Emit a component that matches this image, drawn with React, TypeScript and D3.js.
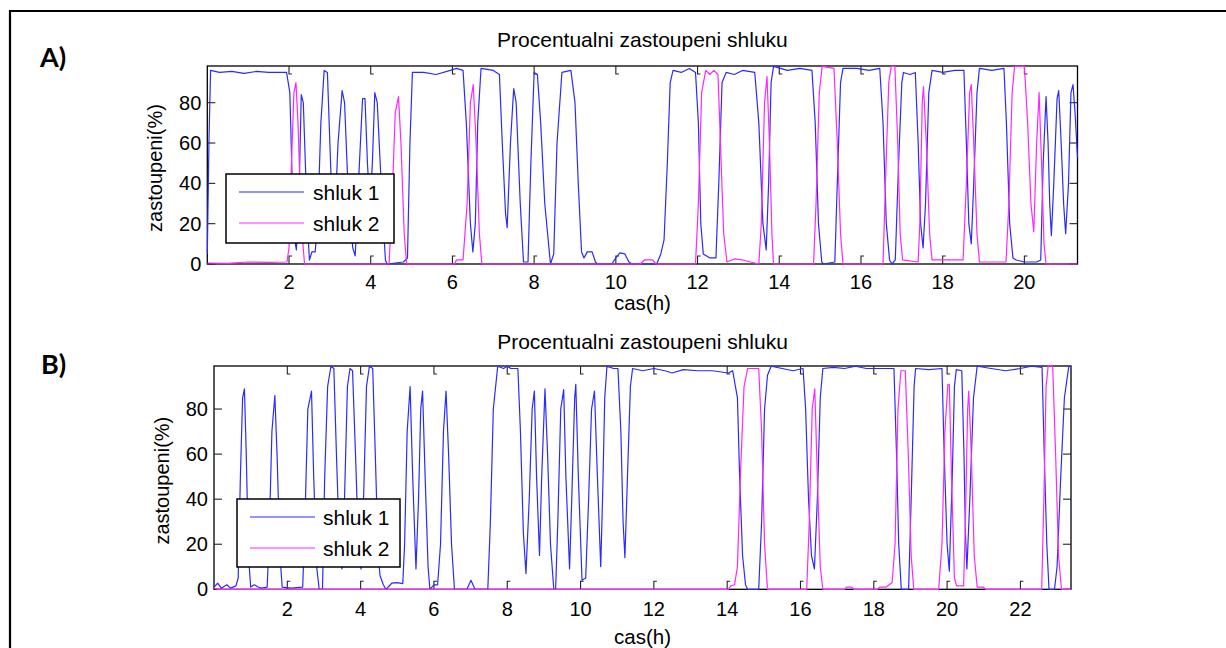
import React from "react";
import * as d3 from "d3";

type Pt = [number, number];

const titleText = "Procentualni zastoupeni shluku";
const xLabelText = "cas(h)";
const yLabelText = "zastoupeni(%)";
const seriesNames = ["shluk 1", "shluk 2"];
const panelLabels = ["A)", "B)"];
const xTicksA = [2, 4, 6, 8, 10, 12, 14, 16, 18, 20];
const xTicksB = [2, 4, 6, 8, 10, 12, 14, 16, 18, 20, 22];
const yTicks = [0, 20, 40, 60, 80];

const aShluk1: Pt[] = [
  [0, 5], [0.04, 60], [0.08, 96], [0.3, 95], [0.6, 95.5], [0.9, 94.5], [1.2, 95.5], [1.5, 95], [1.94, 95],
  [2.02, 85], [2.08, 40], [2.14, 12], [2.18, 7], [2.24, 30], [2.3, 84], [2.35, 80], [2.45, 20], [2.5, 2],
  [2.56, 6], [2.64, 6], [2.7, 20], [2.78, 70], [2.86, 96], [2.94, 95], [3.0, 60], [3.06, 25], [3.12, 22],
  [3.2, 60], [3.3, 86], [3.36, 80], [3.44, 40], [3.56, 8], [3.62, 4], [3.7, 40], [3.8, 82], [3.86, 82],
  [3.92, 50], [3.98, 28], [4.04, 50], [4.1, 85], [4.16, 80], [4.28, 30], [4.36, 2], [4.4, 0], [4.6, 0.5],
  [4.8, 1], [4.9, 3], [4.96, 60], [5.02, 95], [5.3, 95], [5.6, 94], [5.95, 96], [6.1, 97], [6.26, 96],
  [6.34, 70], [6.44, 20], [6.5, 6], [6.56, 20], [6.62, 70], [6.7, 97], [7.0, 96], [7.15, 94], [7.22, 60],
  [7.3, 25], [7.34, 18], [7.42, 60], [7.5, 87], [7.56, 80], [7.66, 30], [7.74, 1], [7.85, 1], [7.92, 50],
  [8.0, 95], [8.08, 94], [8.16, 70], [8.26, 30], [8.4, 0], [8.48, 5], [8.56, 60], [8.68, 95], [8.9, 96],
  [9.0, 80], [9.08, 40], [9.16, 6], [9.22, 3], [9.3, 6], [9.42, 6], [9.5, 1], [9.55, 0], [9.9, 0],
  [10.0, 3], [10.1, 5.5], [10.22, 5], [10.32, 1], [10.4, 0], [11.0, 0], [11.1, 5], [11.18, 12],
  [11.26, 50], [11.33, 90], [11.4, 96], [11.6, 95], [11.8, 97], [11.95, 95], [12.02, 70], [12.08, 20],
  [12.14, 5], [12.3, 3], [12.45, 3], [12.52, 40], [12.6, 90], [12.7, 95], [12.9, 94], [13.1, 96],
  [13.4, 95], [13.5, 70], [13.6, 20], [13.68, 7], [13.74, 40], [13.8, 90], [13.86, 98], [14.2, 96],
  [14.5, 97], [14.8, 96], [14.88, 70], [14.96, 20], [15.04, 1], [15.08, 0], [15.36, 1], [15.42, 40],
  [15.5, 90], [15.56, 97], [15.9, 97], [16.2, 96], [16.46, 97], [16.54, 70], [16.62, 20], [16.7, 2],
  [16.76, 0], [16.84, 2], [16.92, 50], [17.0, 90], [17.04, 95], [17.2, 94], [17.33, 95], [17.4, 60],
  [17.46, 20], [17.52, 8], [17.58, 30], [17.66, 85], [17.74, 96], [18.0, 95], [18.3, 96], [18.52, 96],
  [18.58, 60], [18.64, 20], [18.7, 10], [18.76, 40], [18.84, 85], [18.9, 97], [19.2, 96], [19.5, 97],
  [19.56, 70], [19.64, 20], [19.72, 3], [19.8, 2], [20.0, 1], [20.3, 1], [20.4, 2], [20.46, 50],
  [20.53, 83], [20.58, 60], [20.62, 30], [20.66, 14], [20.72, 40], [20.8, 82], [20.84, 86], [20.9, 60],
  [20.96, 30], [21.01, 15], [21.08, 40], [21.14, 85], [21.19, 89], [21.24, 75], [21.3, 53],
];

const aShluk2: Pt[] = [
  [0, 0.5], [0.5, 0.3], [1.0, 1], [1.5, 0.8], [1.95, 1], [2.0, 8], [2.06, 50], [2.12, 85], [2.17, 90],
  [2.22, 70], [2.3, 20], [2.38, 0], [4.45, 0], [4.52, 30], [4.6, 75], [4.68, 83], [4.74, 60], [4.82, 15],
  [4.88, 0], [6.05, 0], [6.1, 2], [6.26, 2], [6.36, 30], [6.44, 80], [6.51, 89], [6.58, 60], [6.66, 15],
  [6.72, 0], [10.6, 0], [10.7, 2], [10.9, 2], [10.98, 0], [11.95, 0], [12.02, 30], [12.1, 85], [12.2, 96],
  [12.3, 94], [12.4, 96], [12.5, 94], [12.56, 60], [12.64, 15], [12.72, 1], [12.9, 2.5], [13.1, 2],
  [13.3, 1], [13.5, 0], [13.56, 20], [13.64, 80], [13.7, 93], [13.76, 60], [13.82, 15], [13.86, 0],
  [14.84, 0], [14.9, 30], [14.98, 85], [15.05, 98], [15.34, 97], [15.42, 60], [15.5, 15], [15.56, 0],
  [16.54, 0], [16.6, 40], [16.68, 90], [16.74, 98], [16.83, 98], [16.9, 60], [16.96, 15], [17.02, 2],
  [17.4, 1], [17.44, 20], [17.5, 80], [17.53, 88], [17.6, 60], [17.68, 15], [17.74, 2], [18.5, 2],
  [18.58, 40], [18.66, 85], [18.7, 89], [18.76, 60], [18.84, 15], [18.9, 1], [19.55, 1], [19.62, 30],
  [19.7, 85], [19.76, 98], [20.0, 98], [20.08, 70], [20.16, 30], [20.23, 16], [20.3, 60], [20.36, 85],
  [20.42, 50], [20.48, 10], [20.53, 0], [21.3, 0],
];

const bShluk1: Pt[] = [
  [0, 1], [0.1, 2.7], [0.2, 0.5], [0.35, 2], [0.45, 0.5], [0.6, 1.5], [0.66, 5], [0.72, 50], [0.78, 85],
  [0.83, 89], [0.88, 60], [0.94, 15], [1.0, 1], [1.1, 2], [1.2, 1], [1.3, 0.5], [1.45, 1], [1.5, 20],
  [1.58, 70], [1.66, 86], [1.72, 60], [1.8, 15], [1.86, 1], [2.1, 0.5], [2.42, 1], [2.48, 30], [2.56, 80],
  [2.66, 88], [2.72, 50], [2.8, 10], [2.87, 0], [2.96, 0], [3.02, 50], [3.1, 90], [3.19, 99], [3.27, 98],
  [3.34, 60], [3.42, 20], [3.49, 9], [3.56, 40], [3.64, 90], [3.71, 98], [3.78, 97], [3.86, 60],
  [3.94, 20], [4.01, 9], [4.08, 40], [4.16, 90], [4.24, 99], [4.33, 98], [4.4, 60], [4.48, 15], [4.53, 6],
  [4.62, 2], [4.69, 0], [4.85, 2.7], [5.0, 3], [5.15, 2.5], [5.2, 20], [5.27, 70], [5.35, 90], [5.42, 50],
  [5.51, 9], [5.58, 40], [5.64, 80], [5.69, 88], [5.76, 50], [5.84, 10], [5.89, 0], [6.0, 2], [6.1, 2],
  [6.18, 20], [6.26, 70], [6.33, 88], [6.4, 60], [6.48, 20], [6.56, 0], [6.9, 0], [7.01, 4], [7.12, 0],
  [7.47, 0], [7.54, 30], [7.62, 80], [7.74, 99], [7.9, 98], [8.0, 99], [8.1, 98], [8.29, 98], [8.36, 70],
  [8.44, 25], [8.51, 7], [8.6, 40], [8.68, 80], [8.74, 88], [8.8, 50], [8.88, 15], [8.94, 50], [9.03, 89],
  [9.1, 60], [9.18, 20], [9.27, 0], [9.32, 0], [9.38, 30], [9.46, 80], [9.54, 88.6], [9.6, 50], [9.7, 9],
  [9.76, 40], [9.84, 85], [9.87, 91], [9.94, 50], [10.04, 4], [10.14, 5], [10.22, 40], [10.3, 80],
  [10.38, 88], [10.46, 50], [10.55, 10], [10.6, 40], [10.66, 85], [10.72, 99], [10.9, 98], [11.02, 98],
  [11.1, 70], [11.16, 30], [11.21, 14], [11.28, 50], [11.36, 90], [11.42, 98], [11.7, 97], [12.0, 98],
  [12.3, 97], [12.5, 96], [12.8, 97.5], [13.2, 97], [13.6, 97], [14.03, 96], [14.15, 97], [14.28, 85],
  [14.34, 50], [14.42, 15], [14.5, 2], [14.56, 0], [14.86, 0], [14.94, 30], [15.02, 80], [15.1, 95],
  [15.2, 99], [15.5, 98], [15.8, 97], [16.07, 98], [16.14, 80], [16.22, 40], [16.3, 15], [16.38, 9],
  [16.46, 40], [16.54, 85], [16.61, 98], [16.9, 98.5], [17.2, 98], [17.5, 99], [17.8, 98], [18.2, 98],
  [18.55, 98], [18.62, 60], [18.68, 20], [18.75, 0], [18.95, 0], [19.02, 40], [19.1, 90], [19.14, 98],
  [19.5, 97.5], [19.86, 98], [19.92, 60], [20.0, 20], [20.06, 8], [20.14, 50], [20.2, 90], [20.25, 97.5],
  [20.4, 97], [20.46, 60], [20.5, 25], [20.54, 9], [20.62, 40], [20.72, 85], [20.82, 99], [21.2, 98],
  [21.6, 97], [22.0, 98], [22.3, 99], [22.59, 98.5], [22.65, 60], [22.72, 20], [22.78, 0], [22.93, 0],
  [23.0, 10], [23.1, 50], [23.2, 85], [23.32, 99], [23.38, 99],
];

const bShluk2: Pt[] = [
  [0, 0.5], [0.1, 0], [14.03, 0], [14.1, 1.5], [14.2, 2], [14.28, 10], [14.36, 50], [14.46, 90],
  [14.56, 98], [14.86, 98], [14.94, 70], [15.02, 20], [15.1, 0], [16.17, 0], [16.24, 30], [16.32, 80],
  [16.39, 89], [16.46, 50], [16.54, 10], [16.61, 0], [17.2, 0], [17.26, 1], [17.4, 1], [17.46, 0],
  [18.1, 0], [18.16, 1], [18.34, 1], [18.5, 3], [18.58, 20], [18.66, 80], [18.74, 97], [18.86, 97],
  [18.94, 60], [19.02, 15], [19.09, 0], [19.77, 0], [19.86, 20], [19.94, 70], [20.02, 91], [20.06, 91],
  [20.12, 50], [20.2, 5], [20.26, 1.5], [20.45, 1.5], [20.5, 30], [20.56, 80], [20.59, 88], [20.66, 60],
  [20.74, 15], [20.82, 1], [20.98, 1], [21.05, 0], [22.58, 0], [22.64, 40], [22.7, 90], [22.76, 99.5],
  [22.88, 99], [22.96, 60], [23.04, 15], [23.12, 0], [23.38, 0],
];

const BLUE = "#2a2aff";
const MAGENTA = "#ff26ff";
const FONT = "'Liberation Sans', Arial, Helvetica, sans-serif";

type PanelProps = {
  id: string;
  left: number; right: number; top: number; bottom: number;
  xMax: number; yMax: number;
  s1: Pt[]; s2: Pt[];
  xTicks: number[];
  legend: { x0: number; x1: number; y0: number; y1: number; lx0: number; lx1: number; r1: number; r2: number; tx: number };
  titleY: number; xTickY: number; xLabelY: number; yLabelX: number;
};

function Panel(p: PanelProps) {
  const x = d3.scaleLinear().domain([0, p.xMax]).range([p.left, p.right]);
  const y = d3.scaleLinear().domain([0, p.yMax]).range([p.bottom, p.top]);
  const line = d3.line<Pt>().x((d) => x(d[0])).y((d) => y(d[1]));
  const tl = 8;
  const cx = (p.left + p.right) / 2;
  const cy = (p.top + p.bottom) / 2;
  const L = p.legend;
  return (
    <g>
      <defs>
        <clipPath id={p.id}>
          <rect x={p.left - 1} y={p.top - 1} width={p.right - p.left + 2} height={p.bottom - p.top + 2} />
        </clipPath>
      </defs>
      <rect x={p.left} y={p.top} width={p.right - p.left} height={p.bottom - p.top} fill="white" stroke="#000" strokeWidth={1.3} />
      {p.xTicks.map((t) => (
        <g key={"xt" + t} stroke="#222" strokeWidth={1.1} fill="none">
          <path d={`M${x(t)},${p.top} V${p.top + tl} h3`} />
          <path d={`M${x(t)},${p.bottom} V${p.bottom - tl} h3`} />
        </g>
      ))}
      {yTicks.map((v) => (
        <g key={"yt" + v} stroke="#222" strokeWidth={1.1}>
          <line x1={p.left} x2={p.left + tl} y1={y(v)} y2={y(v)} />
          <line x1={p.right} x2={p.right - tl} y1={y(v)} y2={y(v)} />
        </g>
      ))}
      <g clipPath={`url(#${p.id})`} fill="none" strokeWidth={1.2} strokeLinejoin="round">
        <path d={line(p.s1) || ""} stroke={BLUE} />
        <path d={line(p.s2) || ""} stroke={MAGENTA} />
      </g>
      {p.xTicks.map((t) => (
        <text key={"xl" + t} x={x(t)} y={p.xTickY} textAnchor="middle" fontFamily={FONT} fontSize={20}>{t}</text>
      ))}
      {yTicks.map((v) => (
        <text key={"yl" + v} x={p.left - 6} y={y(v) + 7} textAnchor="end" fontFamily={FONT} fontSize={20}>{v}</text>
      ))}
      <text x={cx} y={p.titleY} textAnchor="middle" fontFamily={FONT} fontSize={21}>{titleText}</text>
      <text x={cx} y={p.xLabelY} textAnchor="middle" fontFamily={FONT} fontSize={20.5}>{xLabelText}</text>
      <text transform={`translate(${p.yLabelX},${cy + 3}) rotate(-90)`} textAnchor="middle" fontFamily={FONT} fontSize={20}>{yLabelText}</text>
      <rect x={L.x0} y={L.y0} width={L.x1 - L.x0} height={L.y1 - L.y0} fill="white" stroke="#000" strokeWidth={1.5} />
      <line x1={L.lx0} x2={L.lx1} y1={L.r1} y2={L.r1} stroke={BLUE} strokeWidth={1.2} />
      <line x1={L.lx0} x2={L.lx1} y1={L.r2} y2={L.r2} stroke={MAGENTA} strokeWidth={1.2} />
      <text x={L.tx} y={L.r1 + 7.5} fontFamily={FONT} fontSize={21}>{seriesNames[0]}</text>
      <text x={L.tx} y={L.r2 + 7.5} fontFamily={FONT} fontSize={21}>{seriesNames[1]}</text>
    </g>
  );
}

export default function App() {
  return (
    <svg width={1226} height={648} style={{ position: "absolute", left: 0, top: 0, background: "white" }}>
      <rect x={0} y={0} width={1226} height={648} fill="white" />
      <path d="M10,660 V11 H1240" fill="none" stroke="#000" strokeWidth={2.2} />
      <text x={40} y={67} fontFamily="Lato, 'Open Sans', sans-serif" fontWeight={700} fontSize={27}>{panelLabels[0]}</text>
      <text x={41} y={374} fontFamily="Lato, 'Open Sans', sans-serif" fontWeight={700} fontSize={27}>{panelLabels[1]}</text>
      <Panel
        id="clipA"
        left={207.3} right={1077.5} top={66} bottom={264}
        xMax={21.3} yMax={98.2}
        s1={aShluk1} s2={aShluk2}
        xTicks={xTicksA}
        legend={{ x0: 226, x1: 394, y0: 174, y1: 243, lx0: 239, lx1: 304, r1: 192, r2: 223, tx: 313 }}
        titleY={47} xTickY={289} xLabelY={310} yLabelX={162}
      />
      <Panel
        id="clipB"
        left={214} right={1071} top={366} bottom={589.3}
        xMax={23.38} yMax={99.1}
        s1={bShluk1} s2={bShluk2}
        xTicks={xTicksB}
        legend={{ x0: 237, x1: 400, y0: 499, y1: 567, lx0: 250, lx1: 315, r1: 517, r2: 548, tx: 323 }}
        titleY={349} xTickY={616} xLabelY={644} yLabelX={169}
      />
    </svg>
  );
}
